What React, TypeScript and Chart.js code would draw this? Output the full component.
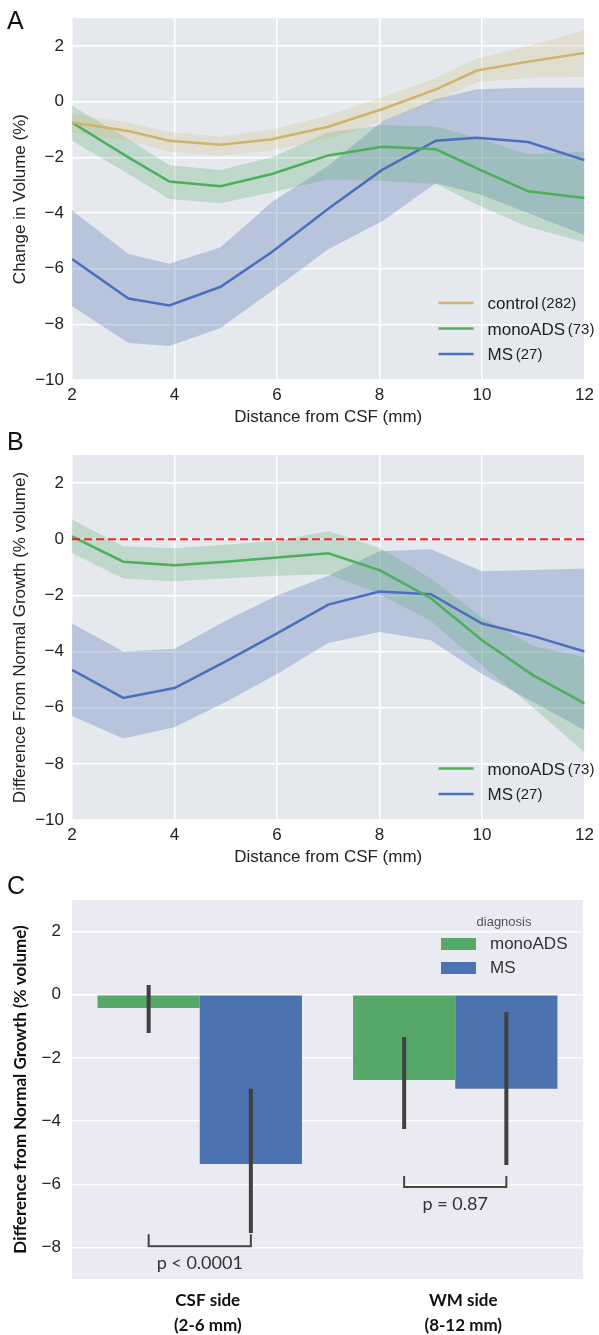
import React, { useEffect, useRef } from 'react';
import { Chart, registerables } from 'chart.js';
Chart.register(...registerables);

// ---------- data ----------
const distA = [2, 3.1, 3.9, 4.9, 5.9, 7.0, 8.05, 9.1, 9.9, 10.9, 12];
const controlMeanA = [-0.75, -1.05, -1.4, -1.55, -1.35, -0.9, -0.27, 0.44, 1.12, 1.44, 1.75];
const controlLowA = [-1.1, -1.4, -1.8, -1.93, -1.75, -1.33, -0.7, 0.0, 0.7, 0.85, 0.9];
const controlHighA = [-0.45, -0.75, -1.1, -1.25, -1.0, -0.5, 0.15, 0.85, 1.55, 2.0, 2.57];
const monoMeanA = [-0.75, -2.0, -2.87, -3.04, -2.6, -1.93, -1.62, -1.71, -2.4, -3.22, -3.46];
const monoLowA = [-1.4, -2.6, -3.5, -3.65, -3.25, -2.8, -2.85, -2.95, -3.7, -4.5, -5.05];
const monoHighA = [-0.15, -1.35, -2.28, -2.45, -2.0, -1.1, -0.85, -0.9, -1.3, -1.9, -1.8];
const msMeanA = [-5.65, -7.07, -7.32, -6.65, -5.4, -3.85, -2.45, -1.4, -1.3, -1.45, -2.1];
const msLowA = [-7.35, -8.67, -8.78, -8.13, -6.8, -5.3, -4.3, -2.93, -3.3, -4.0, -4.8];
const msHighA = [-3.9, -5.47, -5.82, -5.23, -3.6, -2.3, -0.7, 0.1, 0.45, 0.5, 0.5];

const distB = [2, 3, 4, 5, 6, 7, 8, 9, 10, 11, 12];
const monoMeanB = [0.1, -0.8, -0.93, -0.8, -0.65, -0.5, -1.1, -2.1, -3.6, -4.85, -5.85];
const monoLowB = [-0.5, -1.4, -1.5, -1.4, -1.3, -1.25, -1.95, -2.9, -4.5, -6.0, -7.6];
const monoHighB = [0.7, -0.25, -0.32, -0.2, -0.05, 0.28, -0.3, -1.4, -2.8, -3.8, -4.2];
const msMeanB = [-4.65, -5.65, -5.3, -4.35, -3.35, -2.33, -1.86, -1.96, -3.0, -3.45, -4.0];
const msLowB = [-6.3, -7.1, -6.7, -5.8, -4.8, -3.7, -3.3, -3.6, -4.8, -5.8, -6.8];
const msHighB = [-3.0, -4.0, -3.9, -2.9, -2.0, -1.3, -0.43, -0.36, -1.14, -1.1, -1.04];
const refLineX = [2, 12];
const refLineY = [0, 0];

const groupNames = ['control', 'monoADS', 'MS'];
const groupCounts = ['(282)', '(73)', '(27)'];

const xTicksLine = [2, 4, 6, 8, 10, 12];
const yTicksLine = [-10, -8, -6, -4, -2, 0, 2];
const yTicksBar = [-8, -6, -4, -2, 0, 2];

const barCategories = [['CSF side', '(2-6 mm)'], ['WM side', '(8-12 mm)']];
const barSeriesNames = ['monoADS', 'MS'];
const monoBar = [-0.42, -2.7];
const msBar = [-5.36, -2.98];
const monoErrLow = [-1.21, -4.25];
const monoErrHigh = [0.31, -1.34];
const msErrLow = [-7.54, -5.39];
const msErrHigh = [-2.98, -0.55];
const pLabels = ['p < 0.0001', 'p = 0.87'];
const bracketBase = [-7.96, -6.09];
const bracketTop = [-7.58, -5.74];
const pTextY = [-8.49, -6.63];

// ---------- styling ----------
const W = 599;
const SANS = "'Liberation Sans', Arial, sans-serif";
const LATO = "Lato, 'Liberation Sans', sans-serif";
const C_CONTROL = '#cfb46a';
const C_MONO = '#4daf5b';
const C_MS = '#4a6fbf';
const BAR_MONO = '#55a868';
const BAR_MS = '#4c72b0';

const fmt = (v: number) => (v < 0 ? '\u2212' + Math.abs(v) : String(v));

function xy(xs: number[], ys: number[]) {
  return xs.map((x, i) => ({ x, y: ys[i] }));
}

type Series = { mean: number[]; low: number[]; high: number[]; color: string; band: string };

function lineDatasets(xs: number[], series: Series[]) {
  const ds: any[] = [];
  series.forEach((s) => {
    const base = ds.length;
    ds.push({ data: xy(xs, s.low), borderColor: 'transparent', borderWidth: 0, pointRadius: 0, fill: false, order: 10 });
    ds.push({ data: xy(xs, s.high), borderColor: 'transparent', borderWidth: 0, pointRadius: 0, fill: { target: base }, backgroundColor: s.band, order: 10 });
  });
  series.forEach((s) => {
    ds.push({ data: xy(xs, s.mean), borderColor: s.color, borderWidth: 2.5, pointRadius: 0, fill: false, order: 1 });
  });
  return ds;
}

function bgPlugin(color: string, letter: string, letterY: number) {
  return {
    id: 'bg' + letter,
    beforeDraw(chart: any) {
      const { ctx, chartArea: a } = chart;
      ctx.save();
      ctx.fillStyle = color;
      ctx.fillRect(a.left, a.top, a.right - a.left, a.bottom - a.top);
      ctx.restore();
    },
    afterDraw(chart: any) {
      const ctx = chart.ctx;
      ctx.save();
      ctx.fillStyle = '#111';
      ctx.font = `25px ${SANS}`;
      ctx.textBaseline = 'middle';
      ctx.textAlign = 'left';
      ctx.fillText(letter, 7, letterY);
      ctx.restore();
    },
  };
}

function lineLegend(names: string[], counts: string[], colors: string[]) {
  return {
    id: 'lineLegend',
    afterDatasetsDraw(chart: any) {
      const { ctx, chartArea: a } = chart;
      ctx.save();
      const n = names.length;
      names.forEach((name, i) => {
        const y = a.bottom - 26 - (n - 1 - i) * 25.5;
        ctx.strokeStyle = colors[i];
        ctx.lineWidth = 2.5;
        ctx.beginPath();
        ctx.moveTo(a.right - 146, y);
        ctx.lineTo(a.right - 111, y);
        ctx.stroke();
        ctx.fillStyle = '#222';
        ctx.textBaseline = 'alphabetic';
        ctx.textAlign = 'left';
        ctx.font = `17px ${SANS}`;
        const label = name + ' ';
        const base = y + 6;
        ctx.fillText(label, a.right - 97, base);
        const w = ctx.measureText(label).width;
        ctx.font = `15px ${SANS}`;
        ctx.fillText(counts[i], a.right - 97 + w - 2, base - 1);
      });
      ctx.restore();
    },
  };
}

function lineConfig(opts: {
  datasets: any[];
  yTitle: string;
  padTop: number;
  letter: string;
  letterY: number;
  legendNames: string[];
  legendCounts: string[];
  legendColors: string[];
}) {
  const tickFont = { family: SANS, size: 17 };
  return {
    type: 'line',
    data: { datasets: opts.datasets },
    options: {
      animation: false,
      responsive: false,
      devicePixelRatio: 1,
      layout: { padding: { top: opts.padTop, right: 13, left: 0, bottom: 0 } },
      plugins: { legend: { display: false }, tooltip: { enabled: false } },
      elements: { point: { radius: 0 }, line: { tension: 0 } },
      scales: {
        x: {
          type: 'linear',
          min: 2,
          max: 12,
          afterBuildTicks: (s: any) => {
            s.ticks = xTicksLine.map((v) => ({ value: v }));
          },
          afterFit: (s: any) => {
            s.height = 50;
          },
          grid: { color: '#ffffff', lineWidth: 1.5, drawTicks: false },
          border: { display: false },
          ticks: { padding: 5, color: '#222', font: tickFont, maxRotation: 0, autoSkip: false, callback: (v: any) => fmt(Number(v)) },
          title: { display: true, text: 'Distance from CSF (mm)', color: '#222', font: tickFont, padding: { top: 0, bottom: 2 } },
        },
        y: {
          type: 'linear',
          min: -10,
          max: 3,
          afterBuildTicks: (s: any) => {
            s.ticks = yTicksLine.map((v) => ({ value: v }));
          },
          afterFit: (s: any) => {
            s.width = 72;
          },
          grid: { color: '#ffffff', lineWidth: 1.5, drawTicks: false },
          border: { display: false },
          ticks: { padding: 8, color: '#222', font: tickFont, autoSkip: false, callback: (v: any) => fmt(Number(v)) },
          title: { display: true, text: opts.yTitle, color: '#222', font: tickFont, padding: { top: 10, bottom: 0 } },
        },
      },
    },
    plugins: [
      bgPlugin('#e5e9ee', opts.letter, opts.letterY),
      lineLegend(opts.legendNames, opts.legendCounts, opts.legendColors),
    ],
  };
}

function makeConfigA() {
  return lineConfig({
    datasets: lineDatasets(distA, [
      { mean: controlMeanA, low: controlLowA, high: controlHighA, color: C_CONTROL, band: 'rgba(207,180,106,0.22)' },
      { mean: monoMeanA, low: monoLowA, high: monoHighA, color: C_MONO, band: 'rgba(85,168,104,0.25)' },
      { mean: msMeanA, low: msLowA, high: msHighA, color: C_MS, band: 'rgba(76,114,176,0.3)' },
    ]),
    yTitle: 'Change in Volume (%)',
    padTop: 14,
    letter: 'A',
    letterY: 22,
    legendNames: groupNames,
    legendCounts: groupCounts,
    legendColors: [C_CONTROL, C_MONO, C_MS],
  });
}

function makeConfigB() {
  const ds = lineDatasets(distB, [
    { mean: monoMeanB, low: monoLowB, high: monoHighB, color: C_MONO, band: 'rgba(85,168,104,0.25)' },
    { mean: msMeanB, low: msLowB, high: msHighB, color: C_MS, band: 'rgba(76,114,176,0.3)' },
  ]);
  ds.push({ data: xy(refLineX, refLineY), borderColor: '#ee2222', borderWidth: 2, borderDash: [8, 4], pointRadius: 0, fill: false, order: 0 });
  return lineConfig({
    datasets: ds,
    yTitle: 'Difference From Normal Growth (% volume)',
    padTop: 25,
    letter: 'B',
    letterY: 13,
    legendNames: groupNames.slice(1),
    legendCounts: groupCounts.slice(1),
    legendColors: [C_MONO, C_MS],
  });
}

const barExtras = {
  id: 'barExtras',
  afterDatasetsDraw(chart: any) {
    const { ctx, chartArea: a } = chart;
    const y = chart.scales.y;
    const errs = [
      [monoErrLow, monoErrHigh],
      [msErrLow, msErrHigh],
    ];
    ctx.save();
    // error bars
    ctx.strokeStyle = '#404040';
    ctx.lineWidth = 4;
    errs.forEach(([lo, hi], di) => {
      const meta = chart.getDatasetMeta(di);
      meta.data.forEach((bar: any, j: number) => {
        ctx.beginPath();
        ctx.moveTo(bar.x, y.getPixelForValue(lo[j]));
        ctx.lineTo(bar.x, y.getPixelForValue(hi[j]));
        ctx.stroke();
      });
    });
    // brackets
    const m0 = chart.getDatasetMeta(0);
    const m1 = chart.getDatasetMeta(1);
    ctx.strokeStyle = '#444';
    ctx.lineWidth = 2;
    pLabels.forEach((lab, j) => {
      const x0 = m0.data[j].x;
      const x1 = m1.data[j].x;
      const yb = y.getPixelForValue(bracketBase[j]);
      const yt = y.getPixelForValue(bracketTop[j]);
      ctx.beginPath();
      ctx.moveTo(x0, yt);
      ctx.lineTo(x0, yb);
      ctx.lineTo(x1, yb);
      ctx.lineTo(x1, yt);
      ctx.stroke();
      ctx.fillStyle = '#333';
      ctx.font = `18px ${LATO}`;
      ctx.textAlign = 'center';
      ctx.textBaseline = 'middle';
      ctx.fillText(lab, (x0 + x1) / 2, y.getPixelForValue(pTextY[j]));
    });
    // legend
    ctx.fillStyle = '#555';
    ctx.font = `13px ${SANS}`;
    ctx.textAlign = 'center';
    ctx.textBaseline = 'middle';
    ctx.fillText('diagnosis', a.right - 79, a.top + 22);
    const cols = [BAR_MONO, BAR_MS];
    barSeriesNames.forEach((name, i) => {
      const cy = a.top + 44 + i * 24;
      ctx.fillStyle = cols[i];
      ctx.fillRect(a.right - 142, cy - 6, 35, 12);
      ctx.fillStyle = '#333';
      ctx.font = `17px ${SANS}`;
      ctx.textAlign = 'left';
      ctx.fillText(name, a.right - 93, cy);
    });
    ctx.restore();
  },
};

function makeConfigC() {
  return {
    type: 'bar',
    data: {
      labels: barCategories,
      datasets: [
        { label: barSeriesNames[0], data: monoBar, backgroundColor: BAR_MONO, borderWidth: 0 },
        { label: barSeriesNames[1], data: msBar, backgroundColor: BAR_MS, borderWidth: 0 },
      ],
    },
    options: {
      animation: false,
      responsive: false,
      devicePixelRatio: 1,
      layout: { padding: { top: 30, right: 16, left: 0, bottom: 0 } },
      plugins: { legend: { display: false }, tooltip: { enabled: false } },
      datasets: { bar: { categoryPercentage: 0.8, barPercentage: 1.0 } },
      scales: {
        x: {
          type: 'category',
          afterFit: (s: any) => {
            s.height = 56;
          },
          grid: { display: false, drawTicks: false },
          border: { display: false },
          ticks: { padding: 9, labelOffset: 8, color: '#111', font: { family: LATO, size: 17, weight: 'bold', lineHeight: 1.47 }, maxRotation: 0, autoSkip: false },
        },
        y: {
          type: 'linear',
          min: -9,
          max: 3,
          afterBuildTicks: (s: any) => {
            s.ticks = yTicksBar.map((v) => ({ value: v }));
          },
          afterFit: (s: any) => {
            s.width = 72;
          },
          grid: { color: '#ffffff', lineWidth: 1.5, drawTicks: false },
          border: { display: false },
          ticks: { padding: 11, color: '#222', font: { family: SANS, size: 17 }, autoSkip: false, callback: (v: any) => fmt(Number(v)) },
          title: { display: true, text: 'Difference from Normal Growth (% volume)', color: '#111', font: { family: LATO, size: 17, weight: 'bold' }, padding: { top: 10, bottom: 0 } },
        },
      },
    },
    plugins: [bgPlugin('#eaeaf2', 'C', 17), barExtras],
  };
}

function ChartCanvas({ top, height, makeConfig }: { top: number; height: number; makeConfig: () => any }) {
  const ref = useRef<HTMLCanvasElement>(null);
  useEffect(() => {
    const chart = new Chart(ref.current as HTMLCanvasElement, makeConfig());
    return () => chart.destroy();
  }, []);
  return (
    <div style={{ position: 'absolute', left: 0, top, width: W, height }}>
      <canvas ref={ref} width={W} height={height} style={{ display: 'block', width: W, height }} />
    </div>
  );
}

export default function App() {
  return (
    <div style={{ position: 'absolute', left: 0, top: 0, width: W, height: 1335, background: '#fff', overflow: 'hidden' }}>
      <ChartCanvas top={0} height={430} makeConfig={makeConfigA} />
      <ChartCanvas top={430} height={440} makeConfig={makeConfigB} />
      <ChartCanvas top={870} height={465} makeConfig={makeConfigC} />
    </div>
  );
}
